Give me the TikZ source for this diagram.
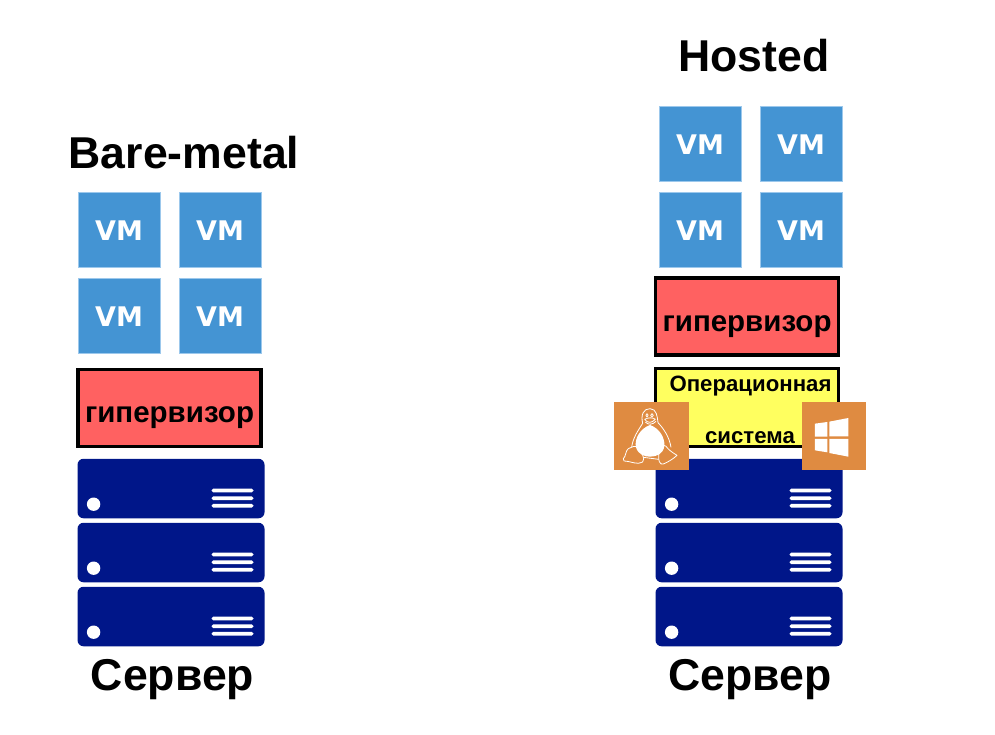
\documentclass[tikz,border=0pt]{standalone}
\usepackage{fontspec}
\setmainfont{Liberation Sans}
\newfontfamily\vmfont{DejaVu Sans}
\definecolor{vmblue}{HTML}{4494D3}
\definecolor{vmedge}{HTML}{9CC8EC}
\definecolor{hyperred}{HTML}{FF6161}
\definecolor{osyellow}{HTML}{FFFF5F}
\definecolor{srvblue}{HTML}{001689}
\definecolor{iconorange}{HTML}{DF8B41}
\tikzset{
  vmbox/.style={draw=vmedge,line width=0.7pt,fill=vmblue,minimum width=82pt,minimum height=75pt,inner sep=0pt},
  vmtext/.style={text=white,inner sep=0pt,font=\vmfont\bfseries\fontsize{27}{27}\selectfont},
  hyperbox/.style={draw=black,line width=3.5pt,fill=hyperred,minimum width=183pt,minimum height=77pt,inner sep=0pt},
  hypertext/.style={inner sep=0pt,font=\bfseries\fontsize{29.5}{29.5}\selectfont},
  osbox/.style={draw=black,line width=3.5pt,fill=osyellow,minimum width=183pt,minimum height=78pt,inner sep=0pt},
  srvbox/.style={fill=srvblue,rounded corners=6pt,minimum width=187pt,minimum height=59.5pt,inner sep=0pt},
  srvdot/.style={circle,fill=white,minimum size=13.4pt,inner sep=0pt},
  srvbar/.style={fill=white,rounded corners=1.8pt,minimum width=42pt,minimum height=3.8pt,inner sep=0pt},
  iconbox/.style={fill=iconorange,inner sep=0pt},
  bigtext/.style={inner sep=0pt,font=\bfseries\fontsize{44.6}{44.6}\selectfont},
  ostext/.style={inner sep=0pt,font=\bfseries\fontsize{22.2}{22.2}\selectfont},
  pengline/.style={draw=white,line width=0.8pt,line join=round},
  winpane/.style={fill=white,draw=none}
}
\newcommand{\serverunit}[3]{%
  \node[srvbox] (#3) at (#1,#2) {};
  \node[srvdot] (#3dot) at (#1-77.4,#2+15.7) {};
  \node[srvbar] (#3a) at (#1+61.5,#2+2) {};
  \node[srvbar] (#3b) at (#1+61.5,#2+9.7) {};
  \node[srvbar] (#3c) at (#1+61.5,#2+17.2) {};
}
\newcommand{\vmunit}[3]{%
  \node[vmbox] (#3) at (#1,#2) {};
  \node[vmtext] (#3t) at (#1,#2+1) {VM};
}
\begin{document}
\begin{tikzpicture}[x=1pt,y=-1pt]
\useasboundingbox (0,0) rectangle (995,735);
% left
\node[bigtext] (titleL) at (184,153) {Bare-metal};
\vmunit{119}{230}{l1}
\vmunit{220}{230}{l2}
\vmunit{119}{316}{l3}
\vmunit{220}{316}{l4}
\node[hyperbox] (hypL) at (169.5,408) {};
\node[hypertext] (hypLt) at (169.5,418) {гипервизор};
\serverunit{171}{488.5}{sl1}
\serverunit{171}{552.5}{sl2}
\serverunit{171}{616.5}{sl3}
\node[bigtext] (srvL) at (172.5,680) {Сервер};
% right
\node[bigtext] (titleR) at (754,56) {Hosted};
\vmunit{700}{144}{r1}
\vmunit{801}{144}{r2}
\vmunit{700}{230}{r3}
\vmunit{801}{230}{r4}
\node[hyperbox] (hypR) at (747,316.5) {};
\node[hypertext] (hypRt) at (747,326.5) {гипервизор};
\node[osbox] (os) at (747,407.5) {};
\node[ostext] (os1) at (750.5,386.5) {Операционная};
\node[ostext] (os2) at (750,438) {система};
\serverunit{749}{488.5}{sr1}
\serverunit{749}{552.5}{sr2}
\serverunit{749}{616.5}{sr3}
\node[bigtext] (srvR) at (750,680) {Сервер};
% linux icon
\node[iconbox,minimum width=75pt,minimum height=67.5pt] (linux) at (651.5,436.2) {};
\begin{scope}[shift={(600,360)},x=0.3333pt,y=-0.3333pt]
  \path[fill=white] (150,195) .. controls (122,205) and (102,235) .. (108,262) .. controls (115,285) and (135,290) .. (150,290) .. controls (170,290) and (190,282) .. (193,258) .. controls (195,232) and (178,205) .. (150,195) -- cycle;
  \path[pengline] (128,190) .. controls (122,165) and (130,146) .. (150,146) .. controls (170,146) and (172,170) .. (174,188) .. controls (190,205) and (208,230) .. (213,262);
  \path[pengline] (128,190) .. controls (115,210) and (98,235) .. (95,262);
  \path[pengline] (70,296) .. controls (78,290) and (76,272) .. (85,266) .. controls (95,262) and (105,255) .. (112,262) .. controls (122,272) and (138,295) .. (128,306) .. controls (112,316) and (95,304) .. (72,303) -- cycle;
  \path[pengline] (178,268) .. controls (185,250) and (198,255) .. (203,265) .. controls (212,275) and (225,282) .. (231,286) .. controls (222,295) and (205,306) .. (190,312) .. controls (180,315) and (172,305) .. (178,268) -- cycle;
  \path[pengline] (130,292) -- (176,298);
  \path[pengline] (134,178) .. controls (145,172) and (158,172) .. (166,178) .. controls (155,190) and (142,190) .. (134,178) -- cycle;
  \path[pengline] (136,186) .. controls (145,196) and (158,194) .. (168,184);
  \path[pengline] (141,166) circle[x radius=3.5,y radius=5];
  \path[pengline] (156,166) circle[x radius=4,y radius=5];
\end{scope}
% windows icon
\node[iconbox,minimum width=64pt,minimum height=67.5pt] (win) at (833.5,436.2) {};
\begin{scope}[shift={(600,360)},x=0.3333pt,y=-0.3333pt]
  \path[winpane] (645,191) -- (682,186) -- (682,230) -- (645,230) -- cycle;
  \path[winpane] (688,185) -- (745,174) -- (745,229) -- (688,229) -- cycle;
  \path[winpane] (645,237) -- (682,237) -- (682,277) -- (645,271) -- cycle;
  \path[winpane] (688,237) -- (745,237) -- (745,290) -- (688,279) -- cycle;
\end{scope}
\end{tikzpicture}
\end{document}
